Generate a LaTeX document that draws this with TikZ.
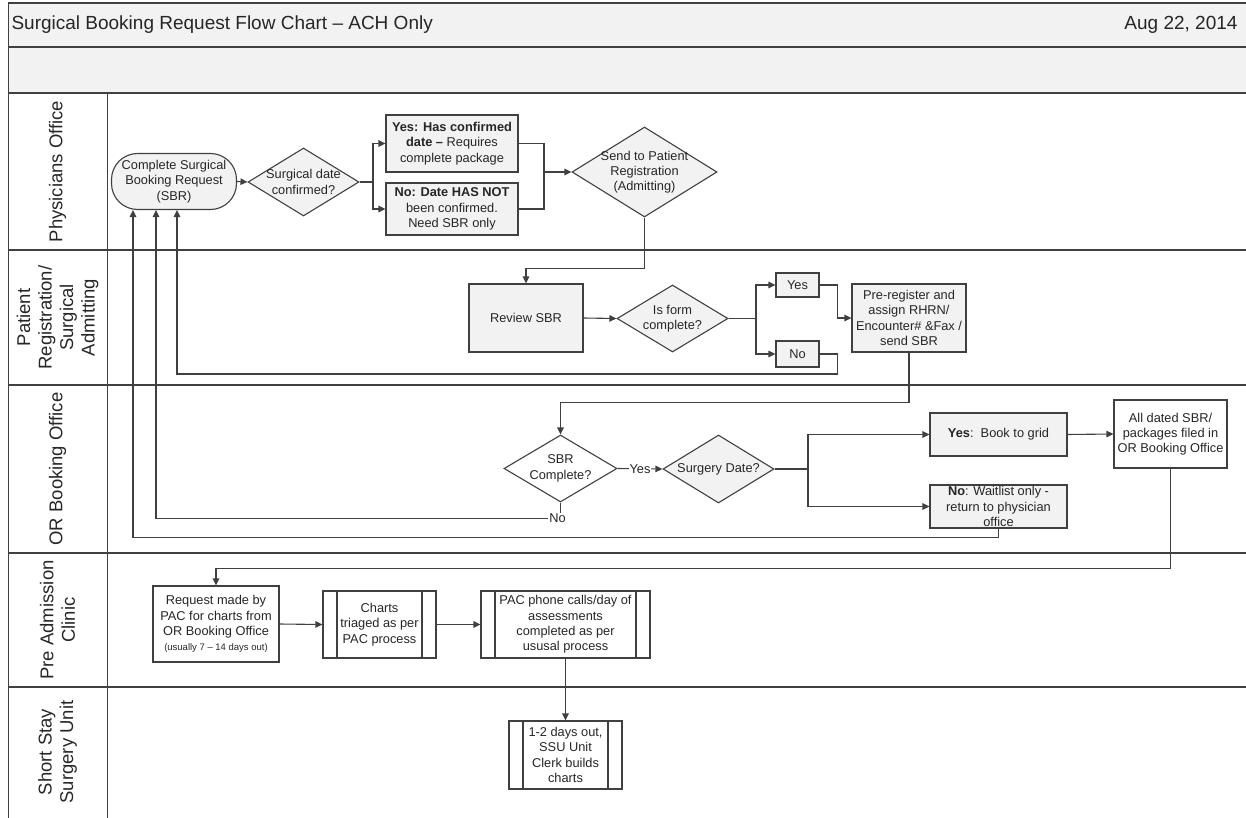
\documentclass[tikz,border=0pt]{standalone}
\usepackage{fontspec}
\setmainfont{Liberation Sans}
\usetikzlibrary{shapes.geometric,arrows.meta,calc}
\definecolor{dk}{HTML}{404040}
\definecolor{lg}{HTML}{F2F2F2}
\definecolor{tx}{HTML}{262626}
\tikzset{
  txt/.style={font=\fontsize{12.8}{15.3}\selectfont, text=tx, align=center},
  shp/.style={draw=dk, line width=1.1pt, inner sep=0pt, txt},
  gbox/.style={shp, rectangle, fill=lg},
  wbox/.style={shp, rectangle, fill=white},
  gdia/.style={shp, diamond, fill=lg},
  wdia/.style={shp, diamond, fill=white},
  ppbox/.style={wbox, path picture={
     \draw[dk, line width=1.1pt] ([xshift=14pt]path picture bounding box.north west) -- ([xshift=14pt]path picture bounding box.south west);
     \draw[dk, line width=1.1pt] ([xshift=-14pt]path picture bounding box.north east) -- ([xshift=-14pt]path picture bounding box.south east);}},
  conn/.style={draw=dk, line width=1.1pt},
  arr/.style={conn, -{Triangle[length=7pt,width=6.5pt]}},
  lbl/.style={txt, fill=white, inner sep=1pt},
  lanetxt/.style={font=\fontsize{18.5}{21.5}\selectfont, text=tx, align=center, rotate=90},
  hdrtxt/.style={font=\fontsize{19}{22}\selectfont, text=tx},
  sepline/.style={draw=dk, line width=1.6pt},
  thinline/.style={draw=dk, line width=1pt},
}
\begin{document}
\begin{tikzpicture}[x=1pt,y=-1pt]
\useasboundingbox (0,0) rectangle (1246,818);
% header bars
\fill[lg] (8,3) rectangle (1246,93);
\draw[sepline] (8,3) -- (1246,3);
\draw[sepline] (8,47) -- (1246,47);
\draw[sepline] (8,93) -- (1246,93);
\draw[thinline] (8,3) -- (8,818);
\draw[thinline] (107,93) -- (107,818);
\foreach \yy in {250,385,553,687} { \draw[sepline] (8,\yy) -- (1246,\yy); }
\node[hdrtxt, anchor=west] (title) at (8,25) {Surgical Booking Request Flow Chart – ACH Only};
\node[hdrtxt, anchor=east] (date) at (1241,25) {Aug 22, 2014};
% lane labels
\node[lanetxt] (L1) at (57.5,171.5) {Physicians Office};
\node[lanetxt] (L2) at (57.5,317.5) {Patient\\Registration/\\Surgical\\Admitting};
\node[lanetxt] (L3) at (57.5,469) {OR Booking Office};
\node[lanetxt] (L4) at (57.5,620) {Pre Admission\\Clinic};
\node[lanetxt] (L5) at (57.5,752) {Short Stay\\Surgery Unit};
% Physicians Office
\node[gbox, rounded corners=26pt, minimum width=125, minimum height=56] (term) at (174,181.5) {Complete Surgical\\Booking Request\\(SBR)};
\node[gdia, minimum width=111, minimum height=68, label={[txt]center:{Surgical date\\confirmed?}}] (d1) at (303.5,182) {};
\node[gbox, minimum width=132, minimum height=57] (yb1) at (452,143.5) {\textbf{Yes: Has confirmed}\\\textbf{date –} Requires\\complete package};
\node[gbox, minimum width=132, minimum height=52] (nb1) at (452,209) {\textbf{No: Date HAS NOT}\\been confirmed.\\Need SBR only};
\node[gdia, minimum width=145, minimum height=90, label={[txt]center:{Send to Patient\\Registration\\(Admitting)}}] (d2) at (644.5,172) {};
% Patient Registration
\node[gbox, minimum width=114, minimum height=68] (rev) at (526,318) {Review SBR};
\node[gdia, minimum width=111, minimum height=67, label={[txt]center:{Is form\\complete?}}] (d3) at (672.5,318.5) {};
\node[gbox, minimum width=43, minimum height=24] (yes2) at (797.5,285) {Yes};
\node[gbox, minimum width=43, minimum height=26] (no2) at (797.5,354) {No};
\node[gbox, minimum width=114, minimum height=68] (pre) at (909,318) {Pre-register and\\assign RHRN/\\Encounter\# \&Fax /\\send SBR};
% OR Booking Office
\node[wdia, minimum width=113, minimum height=67, label={[txt]center:{SBR\\Complete?}}] (sbrc) at (560.5,468.5) {};
\node[gdia, minimum width=111, minimum height=68, label={[txt]center:{Surgery Date?}}] (sd) at (718.5,469) {};
\node[gbox, minimum width=137, minimum height=43] (yb2) at (998.5,434.5) {\textbf{Yes}:\ \ Book to grid};
\node[wbox, minimum width=113, minimum height=68] (alld) at (1170.5,434) {All dated SBR/\\packages filed in\\OR Booking Office};
\node[gbox, minimum width=137, minimum height=43] (wait) at (998.5,506.5) {\textbf{No}: Waitlist only -\\return to physician\\office};
% Pre Admission Clinic
\node[wbox, minimum width=126, minimum height=76] (req) at (216,624) {Request made by\\PAC for charts from\\OR Booking Office\\{\fontsize{9.5}{11}\selectfont (usually 7 – 14 days out)}};
\node[ppbox, minimum width=113, minimum height=67] (charts) at (379.5,624.5) {Charts\\triaged as per\\PAC process};
\node[ppbox, minimum width=169, minimum height=67] (pac) at (565.5,624.5) {PAC phone calls/day of\\assessments\\completed as per\\ususal process};
% Short Stay Surgery Unit
\node[ppbox, minimum width=113, minimum height=68] (ssu) at (565.5,755) {1-2 days out,\\SSU Unit\\Clerk builds\\charts};
% connectors
\coordinate (j1) at (373,182);
\coordinate (j2) at (544,172);
\coordinate (j3) at (756,318.5);
\coordinate (j4) at (808,469);
\draw[arr] (term.east) -- (d1.west);
\draw[conn] (d1.east) -- (j1);
\draw[arr] (j1) |- (yb1.west);
\draw[arr] (j1) |- (nb1.west);
\draw[conn] (yb1.east) -| (j2);
\draw[conn] (nb1.east) -| (j2);
\draw[arr] (j2) -- (d2.west);
\draw[arr] (d2.south) -- ++(0,51) -| (rev.north);
\draw[arr] (rev.east) -- (d3.west);
\draw[conn] (d3.east) -- (j3);
\draw[arr] (j3) |- (yes2.west);
\draw[arr] (j3) |- (no2.west);
\draw[arr] (yes2.east) -- ++(18,0) |- (pre.west);
\draw[arr] (no2.east) -- ++(18,0) -- ++(0,20) -| ([xshift=3pt]term.south);
\draw[arr] (pre.south) -- ++(0,50) -| (sbrc.north);
\draw[arr] (sbrc.east) -- node[lbl] (yeslbl) {Yes} (sd.west);
\draw[arr] (sbrc.south) -- ++(0,16) coordinate (nc) -| ([xshift=-18pt]term.south);
\node[lbl] (nolbl) at ([xshift=-3pt]nc) {No};
\draw[conn] (sd.east) -- (j4);
\draw[arr] (j4) |- (yb2.west);
\draw[arr] (j4) |- (wait.west);
\draw[arr] (yb2.east) -- (alld.west);
\draw[arr] (wait.south) -- ++(0,9) -| ([xshift=-41pt]term.south);
\draw[arr] (alld.south) -- ++(0,100) -| (req.north);
\draw[arr] (req.east) -- (charts.west);
\draw[arr] (charts.east) -- (pac.west);
\draw[arr] (pac.south) -- (ssu.north);
\end{tikzpicture}
\end{document}
